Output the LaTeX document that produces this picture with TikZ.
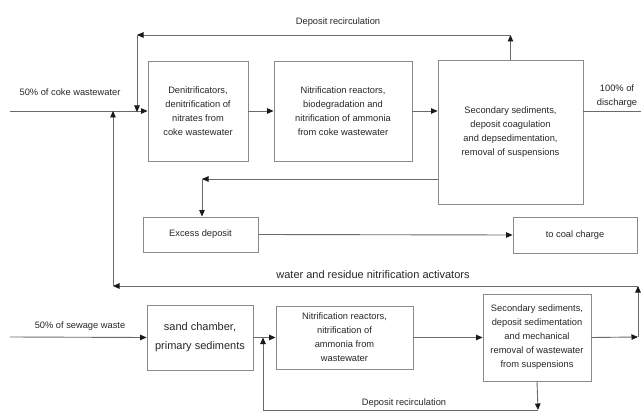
\documentclass[tikz,border=0pt]{standalone}
\usepackage{fontspec}
\setmainfont{Liberation Sans}
\usetikzlibrary{arrows.meta}
\definecolor{txt}{HTML}{262626}
\definecolor{ln}{HTML}{6A6A6A}
\definecolor{bx}{HTML}{8A8A8A}
\definecolor{tip}{HTML}{1A1A1A}
\tikzset{
  box/.style={draw=bx, line width=0.9pt, align=center, text=txt, inner sep=2pt,
    font=\fontsize{9.3}{14}\selectfont},
  lbl/.style={text=txt, align=center, inner sep=0pt, font=\fontsize{9.3}{14}\selectfont},
  big/.style={font=\fontsize{11}{19}\selectfont},
  flow/.style={draw=ln, line width=0.9pt, -{Triangle[length=6.5pt,width=5.5pt,color=tip]}},
  plain/.style={draw=ln, line width=0.9pt}
}
\begin{document}
\begin{tikzpicture}[x=1pt,y=-1pt]
\useasboundingbox (0,0) rectangle (641,412);
% boxes top row
\node[box, minimum width=100pt, minimum height=100pt] (b1) at (198,111)
  {Denitrificators,\\denitrification of\\nitrates from\\coke wastewater};
\node[box, minimum width=138pt, minimum height=100pt] (b2) at (343,111)
  {Nitrification reactors,\\biodegradation and\\nitrification of ammonia\\from coke wastewater};
\node[box, minimum width=145pt, minimum height=144pt] (b3) at (510.5,132)
  {Secondary sediments,\\deposit coagulation\\and depsedimentation,\\removal of suspensions};
\node[box, minimum width=115pt, minimum height=35pt] (ex) at (200.5,234.5) {Excess deposit};
\node[box, minimum width=124pt, minimum height=36pt] (coal) at (575,235) {to coal charge};
% boxes bottom row
\node[box, big, minimum width=106pt, minimum height=65pt] (b4) at (200,337.5)
  {sand chamber,\\primary sediments};
\node[box, minimum width=137pt, minimum height=63pt] (b5) at (344.5,337.5)
  {Nitrification reactors,\\nitrification of\\ammonia from\\wastewater};
\node[box, minimum width=108pt, minimum height=87pt] (b6) at (537,337.5)
  {Secondary sediments,\\deposit sedimentation\\and mechanical\\removal of wastewater\\from suspensions};
% labels
\node[lbl] (l1) at (338,22) {Deposit recirculation};
\node[lbl] (l2) at (70,92) {50\% of coke wastewater};
\node[lbl] (l3) at (617,96) {100\% of\\discharge};
\node[lbl, big] (l4) at (373,275) {water and residue nitrification activators};
\node[lbl] (l5) at (80,326) {50\% of sewage waste};
\node[lbl] (l6) at (404,403) {Deposit recirculation};
% coordinates
\coordinate (in1) at (10,111);
\coordinate (out1) at (641,111);
\coordinate (ct) at (137,35);
\coordinate (c2) at (202,179);
\coordinate (in2) at (10,337);
\coordinate (cr1) at (638,337);
\coordinate (cr2) at (638,286);
\coordinate (cw) at (113,286);
\coordinate (cb1) at (538,410);
\coordinate (cb2) at (263,410);
% top flows
\draw[flow] (in1) -- (b1.west);
\draw[flow] (b1.east) -- (b2.west);
\draw[flow] (b2.east) -- (b2.east -| b3.west);
\draw[plain] (b3.east |- out1) -- (out1);
\draw[flow] (b3.north) -- (b3.north |- ct);
\draw[flow] (b3.north |- ct) -- (ct);
\draw[flow] (ct) -- ([yshift=-1pt]ct |- in1);
\draw[flow] (b3.west |- c2) -- (c2);
\draw[flow] (c2) -- (c2 |- ex.north);
\draw[flow] (ex.east) -- (coal.west);
% water return
\draw[flow] (b6.east) -- (cr1);
\draw[flow] (cr1) -- (cr2);
\draw[flow] (cr2) -- (cw);
\draw[flow] (cw) -- (cw |- in1);
% bottom flows
\draw[flow] (in2) -- (b4.west);
\draw[flow] (b4.east) -- (b5.west);
\draw[flow] (b5.east) -- (b6.west);
\draw[flow] (b6.south) -- (cb1);
\draw[plain] (cb1) -- (cb2);
\draw[flow] (cb2) -- (cb2 |- b5.west);
\end{tikzpicture}
\end{document}
